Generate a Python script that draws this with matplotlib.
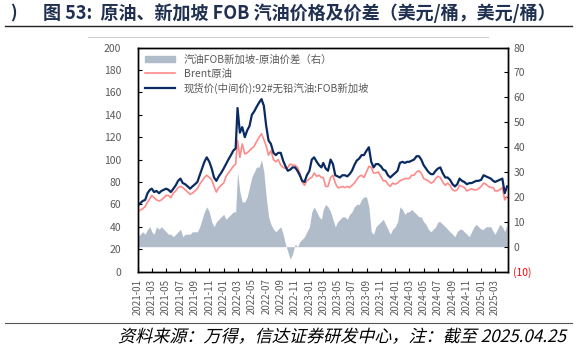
import pandas as pd
import matplotlib
matplotlib.use("Agg")
import matplotlib.pyplot as plt
import matplotlib.dates as mdates
from matplotlib.lines import Line2D
from matplotlib.patches import Patch, PathPatch
from matplotlib.textpath import TextPath
from matplotlib.font_manager import FontProperties
from matplotlib.transforms import Affine2D

plt.rcParams["font.family"] = ["Noto Sans CJK SC", "DejaVu Sans"]

# dekad sampling: 1st, 11th, 21st of each month, 2021-01 .. 2025-04
dates = [pd.Timestamp(y, m, d) for y in range(2021, 2026) for m in range(1, 13)
         for d in (1, 11, 21) if (y, m) <= (2025, 4)]

# Singapore FOB 92# gasoline (USD/bbl), left axis
gasoline = [
    59, 61, 63, 64, 70, 73, 74, 71, 72, 70, 72, 73, 74, 73, 71, 74, 77, 81,
    83, 79, 78, 76, 74, 76, 78, 80, 86, 92, 98, 102, 98, 92, 84, 81, 85, 88,
    92, 96, 100, 104, 108, 110, 146, 124, 129, 120, 126, 130, 140, 143, 147, 151, 154, 148,
    130, 117, 114, 106, 104, 106, 106, 99, 94, 90, 91, 93, 93, 90, 86, 81, 80, 86,
    90, 100, 102, 98, 95, 93, 97, 92, 90, 100, 96, 86, 85, 84, 86, 86, 85, 87,
    90, 95, 99, 101, 104, 104, 108, 111, 98, 93, 96, 96, 94, 91, 90, 86, 84, 86,
    88, 90, 97, 98, 97, 98, 98, 99, 100, 103, 103, 100, 95, 92, 89, 87, 87, 90,
    92, 93, 88, 84, 84, 82, 78, 76, 78, 83, 81, 80, 78, 79, 79, 80, 81, 81,
    82, 86, 85, 84, 83, 81, 80, 81, 82, 83, 70, 76,
]

# Brent crude (USD/bbl), left axis
brent = [
    52, 55, 56, 58, 62, 65, 68, 66, 64, 63, 64, 66, 68, 68, 66, 70, 72, 75,
    76, 75, 73, 71, 69, 70, 72, 74, 78, 81, 84, 86, 84, 82, 76, 71, 75, 77,
    79, 85, 88, 91, 94, 96, 117, 102, 114, 105, 106, 108, 110, 112, 116, 120, 123, 118,
    112, 104, 108, 100, 98, 100, 95, 93, 92, 93, 96, 95, 95, 93, 88, 80, 77, 81,
    83, 84, 88, 85, 86, 84, 84, 76, 76, 84, 86, 79, 75, 75, 76, 75, 76, 75,
    77, 79, 82, 85, 86, 84, 89, 94, 93, 88, 88, 89, 85, 81, 81, 78, 76, 79,
    78, 79, 81, 82, 83, 83, 83, 86, 86, 89, 90, 88, 83, 82, 81, 79, 80, 83,
    85, 84, 80, 77, 79, 77, 73, 72, 73, 77, 76, 75, 72, 73, 74, 73, 73, 74,
    76, 79, 78, 76, 75, 75, 72, 72, 73, 75, 64, 67,
]

# gasoline FOB Singapore - crude spread (USD/bbl), right axis
spread = [
    4, 5, 6, 5, 7, 8, 6, 5, 8, 7, 8, 7, 6, 5, 5, 4, 5, 6,
    7, 4, 5, 5, 5, 6, 6, 6, 8, 11, 14, 16, 14, 10, 8, 10, 11, 12,
    13, 11, 12, 13, 14, 14, 30, 22, 18, 18, 20, 24, 28, 30, 32, 32, 35, 30,
    20, 12, 9, 7, 6, 7, 8, 5, 1, -2, -5, -3, 1, 0, 2, 3, 4, 6,
    8, 14, 16, 14, 12, 11, 15, 17, 16, 14, 11, 8, 10, 11, 12, 12, 11, 13,
    14, 16, 17, 17, 19, 20, 20, 16, 6, 5, 8, 9, 10, 11, 9, 7, 5, 7,
    8, 10, 16, 15, 13, 14, 14, 15, 14, 13, 12, 12, 10, 9, 7, 6, 7, 8,
    10, 10, 9, 8, 7, 6, 5, 4, 6, 7, 7, 6, 5, 4, 6, 8, 9, 8,
    7, 7, 8, 8, 8, 6, 5, 7, 9, 8, 6, 9,
]

left_ticks = list(range(0, 201, 20))
right_ticks = list(range(-10, 81, 10))

navy = "#0a2a62"
pink = "#ff8a8a"
bar_col = "#b1bccb"
grey_txt = "#595959"
title_col = "#1f3050"

fig = plt.figure(figsize=(5.77, 3.55), dpi=100)
ax = fig.add_axes([0.239, 0.235, 0.641, 0.631])
ax2 = ax.twinx()

ax2.fill_between(dates, spread, color=bar_col, lw=0)
ax.plot(dates, brent, color=pink, lw=1.2)
ax.plot(dates, gasoline, color=navy, lw=1.6)

ax.set_zorder(ax2.get_zorder() + 1)
ax.patch.set_visible(False)

ax.set_xlim(pd.Timestamp("2021-01-01"), pd.Timestamp("2025-04-24"))
ax.set_ylim(0, 200)
ax2.set_ylim(-10, 80)
ax.set_yticks(left_ticks)
labels = [f"({abs(v)})" if v < 0 else str(v) for v in right_ticks]
ax2.set_yticks(right_ticks, labels)
for t, v in zip(ax2.get_yticklabels(), right_ticks):
    t.set_color("red" if v < 0 else grey_txt)

ax.xaxis.set_major_locator(mdates.MonthLocator(bymonth=[1, 3, 5, 7, 9, 11]))
ax.xaxis.set_major_formatter(mdates.DateFormatter("%Y-%m"))
ax.tick_params(axis="x", direction="in", length=3, rotation=90, labelsize=7,
               labelcolor=grey_txt, pad=5)
ax.tick_params(axis="y", direction="in", length=3, labelsize=7.5,
               labelcolor=grey_txt, pad=12)
ax2.tick_params(axis="y", direction="in", length=3, labelsize=7.5, pad=4)
for a in (ax, ax2):
    for s in a.spines.values():
        s.set_color("black")
        s.set_linewidth(1.0)

handles = [Patch(color=bar_col), Line2D([], [], color=pink, lw=1.2),
           Line2D([], [], color=navy, lw=1.6)]
names = ["汽油FOB新加坡-原油价差（右）", "Brent原油", "现货价(中间价):92#无铅汽油:FOB新加坡"]
leg = ax.legend(handles, names, loc="upper left", bbox_to_anchor=(0.0, 1.0),
                frameon=False, fontsize=7.5, handlelength=2.9, labelspacing=0.35,
                handleheight=0.5, borderaxespad=0.3)
for t in leg.get_texts():
    t.set_color(grey_txt)

# header
fig.text(0.017, 0.962, ")", fontsize=12.5, fontweight="bold", color=title_col, va="center")
fig.text(0.074, 0.962, "图 53:  原油、新加坡 FOB 汽油价格及价差（美元/桶，美元/桶）",
         fontsize=13, fontweight="bold", color=title_col, va="center")
fig.add_artist(Line2D([0.009, 0.991], [0.928, 0.928], color="#222222", lw=1.0))
fig.add_artist(Line2D([0.152, 0.846], [0.896, 0.896], color="#d0d0d0", lw=0.8))

# footer: slanted source note
fig.add_artist(Line2D([0.009, 0.991], [0.090, 0.090], color="#555555", lw=0.8))
src = TextPath((0, 0), "资料来源：万得，信达证券研发中心，注：截至 2025.04.25", size=12.3,
               prop=FontProperties(family="Noto Sans CJK SC"))
tr = Affine2D().skew_deg(14, 0).scale(1 / 72).translate(118 / 100, (355 - 342) / 100)
fig.add_artist(PathPatch(src, transform=tr + fig.dpi_scale_trans, color="black", lw=0))

fig.savefig("out.png", dpi=100)
